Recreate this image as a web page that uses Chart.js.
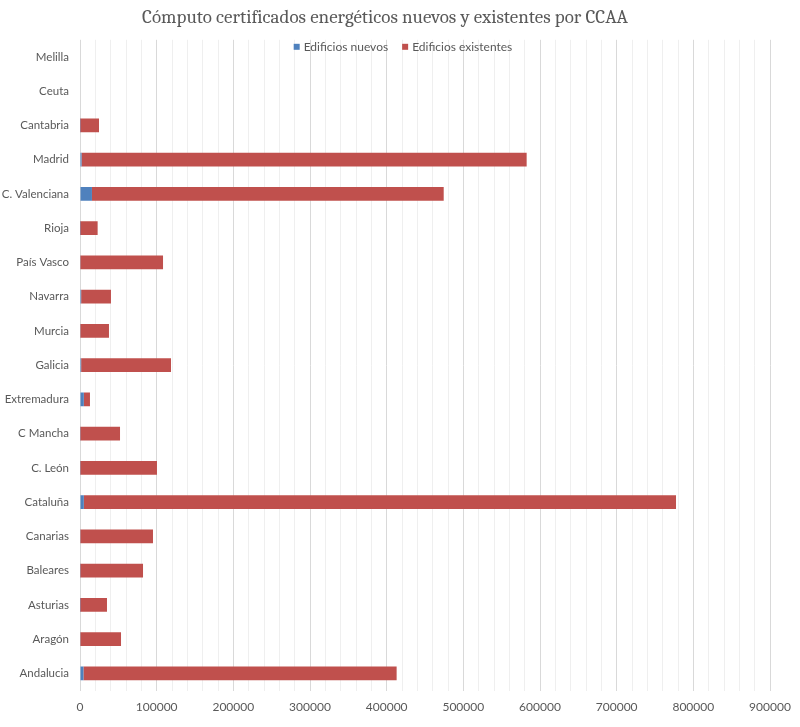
<!DOCTYPE html>
<html>
<head>
<meta charset="utf-8">
<script src="https://cdn.jsdelivr.net/npm/chart.js@4"></script>
<style>
  body { margin: 0; background: #fff; }
  #wrap { width: 800px; height: 727px; }
</style>
</head>
<body>
<div id="wrap"><canvas id="chart" width="800" height="727"></canvas></div>
<script>
// regiones, de abajo (Andalucia) hacia arriba (Melilla)
const regiones = [
    "Andalucia", "Aragón", "Asturias", "Baleares", "Canarias", "Cataluña",
    "C. León", "C Mancha", "Extremadura", "Galicia", "Murcia", "Navarra",
    "País Vasco", "Rioja", "C. Valenciana", "Madrid", "Cantabria", "Ceuta", "Melilla",
];
const edificiosNuevos = [
    4500, 500, 300, 400, 500, 5000,
    400, 400, 5000, 1500, 500, 1500,
    500, 300, 15600, 2000, 300, 0, 0,
];
const edificiosExistentes = [
    408500, 53000, 34900, 81800, 94700, 772400,
    100000, 51800, 8000, 117200, 37300, 38900,
    107800, 22700, 458800, 580600, 24500, 0, 0,
];
const xTicksMax = 900000;
const xStep = 20000;

const textColor = "#595959";
const fontFamily = "Lato, 'Liberation Sans', sans-serif";
const labelFont = { family: fontFamily, size: 12 };
const categoryFont = { family: fontFamily, size: 11.5 };

// leyenda dentro del área del gráfico, arriba y centrada (como en Excel)
const insideLegend = {
    id: "insideLegend",
    afterDraw(chart) {
        const ctx = chart.ctx;
        const area = chart.chartArea;
        const items = chart.data.datasets.map((ds) => ({ text: ds.label, color: ds.backgroundColor }));
        ctx.save();
        ctx.font = `${labelFont.size}px ${labelFont.family}`;
        const box = 6;
        const gap = 4;
        const spacing = 14;
        const widths = items.map((it) => box + gap + ctx.measureText(it.text).width);
        const total = widths.reduce((a, b) => a + b, 0) + spacing * (items.length - 1);
        let x = 403 - total / 2;
        const y = area.top + 7;
        ctx.textBaseline = "middle";
        items.forEach((it, i) => {
            ctx.fillStyle = it.color;
            ctx.fillRect(x, y - box / 2, box, box);
            ctx.fillStyle = textColor;
            ctx.fillText(it.text, x + box + gap, y);
            x += widths[i] + spacing;
        });
        ctx.restore();
    },
};

new Chart(document.getElementById("chart"), {
    type: "bar",
    data: {
        labels: regiones,
        datasets: [
            {
                label: "Edificios nuevos",
                data: edificiosNuevos,
                backgroundColor: "#4f81bd",
            },
            {
                label: "Edificios existentes",
                data: edificiosExistentes,
                backgroundColor: "#c0504d",
            },
        ],
    },
    plugins: [insideLegend],
    options: {
        indexAxis: "y",
        responsive: false,
        animation: false,
        layout: {
            padding: { left: 0, right: 30, top: 6, bottom: 4 },
        },
        datasets: {
            bar: { barPercentage: 0.4, categoryPercentage: 1 },
        },
        plugins: {
            title: {
                display: true,
                text: "Cómputo certificados energéticos nuevos y existentes por CCAA",
                color: textColor,
                font: { family: "Cambria, 'Liberation Serif', serif", size: 19, weight: "normal" },
                padding: { top: 0, bottom: 11 },
            },
            legend: { display: false },
            tooltip: { enabled: false },
        },
        scales: {
            x: {
                stacked: true,
                min: 0,
                max: xTicksMax,
                border: { display: false },
                grid: {
                    drawTicks: false,
                    color: (ctx) =>
                        ctx.tick && ctx.tick.value % 100000 === 0 ? "#d9d9d9" : "#efefef",
                },
                ticks: {
                    stepSize: xStep,
                    autoSkip: false,
                    maxRotation: 0,
                    padding: 9,
                    color: textColor,
                    font: labelFont,
                    callback: (value) => (value % 100000 === 0 ? String(value) : ""),
                },
            },
            y: {
                stacked: true,
                reverse: true,
                border: { display: false },
                grid: { display: false, drawTicks: false },
                ticks: {
                    padding: 11,
                    color: textColor,
                    font: categoryFont,
                },
                afterFit: (scale) => {
                    scale.width = 80;
                },
            },
        },
    },
});
</script>
</body>
</html>
